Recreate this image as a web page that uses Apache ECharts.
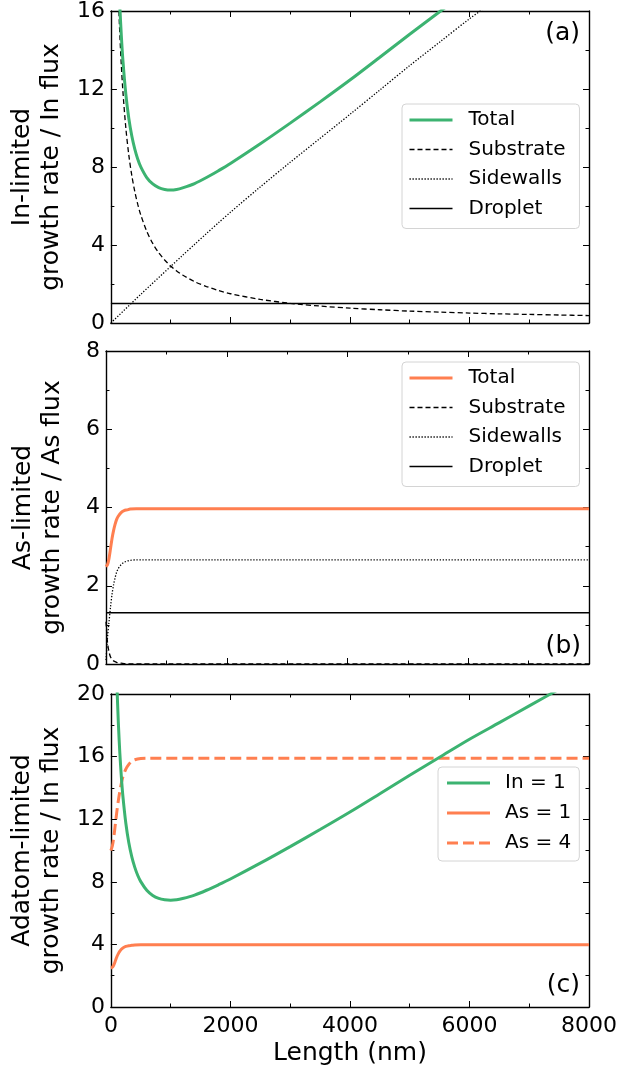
<!DOCTYPE html>
<html>
<head>
<meta charset="utf-8">
<script src="https://cdn.jsdelivr.net/npm/echarts@6/dist/echarts.min.js"></script>
<style>
  html, body { margin: 0; padding: 0; background: #fff; }
  #chart { width: 621px; height: 1069px; }
</style>
</head>
<body>
<div id="chart"></div>
<script>
// ---- Panel (a): In-limited growth rate, contributions vs. length (nm) ----
const lenA = [80, 100, 125, 150, 175, 200, 250, 300, 350, 400, 450, 500, 600, 700, 800, 900, 1000, 1100, 1200,
  1400, 1600, 1800, 2000, 2500, 3000, 3500, 4000, 4500, 5000, 5500, 6000, 6500, 7000, 7500, 8000];
const inSubstrate = [22.14, 19.38, 16.76, 14.76, 13.19, 11.92, 10.00, 8.61, 7.56, 6.74, 6.08, 5.54, 4.70, 4.08, 3.60,
  3.23, 2.92, 2.67, 2.46, 2.12, 1.87, 1.67, 1.50, 1.21, 1.01, 0.87, 0.76, 0.68, 0.61, 0.56, 0.51, 0.47, 0.44, 0.41, 0.38];
const inTotal = [23.38, 20.68, 18.13, 16.20, 14.71, 13.51, 11.74, 10.49, 9.59, 8.92, 8.40, 8.01, 7.46, 7.13, 6.94,
  6.85, 6.82, 6.85, 6.93, 7.15, 7.46, 7.81, 8.18, 9.19, 10.25, 11.34, 12.46, 13.63, 14.81, 15.96, 17.11, 18.17, 19.24, 20.31, 21.38];
const lenSideA = [0, 500, 1000, 1200, 1400, 1600, 1800, 2000, 2500, 3000, 3500, 4000, 4500, 5000, 5500, 6000, 6500, 7000, 7500, 8000];
const inSidewalls = [0, 1.47, 2.90, 3.47, 4.03, 4.59, 5.14, 5.68, 6.98, 8.24, 9.47, 10.70, 11.95, 13.20, 14.40, 15.60, 16.70, 17.80, 18.90, 20.00];
const lenDroplet = [0, 8000];
const inDroplet = [1.0, 1.0];

// ---- Panel (b): As-limited growth rate ----
const lenB = [0, 25, 50, 75, 100, 125, 150, 175, 200, 250, 300, 350, 400, 500, 600, 800, 8000];
const asTotal = [2.49, 2.54, 2.70, 2.95, 3.21, 3.41, 3.57, 3.69, 3.77, 3.87, 3.92, 3.94, 3.96, 3.97, 3.97, 3.97, 3.97];
const asSubstrate = [1.08, 0.55, 0.31, 0.18, 0.12, 0.08, 0.06, 0.04, 0.03, 0.02, 0.01, 0, 0, 0, 0, 0, 0];
const asSidewalls = [0.10, 0.68, 1.08, 1.46, 1.78, 2.02, 2.20, 2.34, 2.43, 2.54, 2.60, 2.63, 2.65, 2.66, 2.66, 2.66, 2.66];
const asDroplet = [1.31, 1.31];

// ---- Panel (c): adatom-limited growth rate for different fluxes ----
const asFour = [10.0, 10.3, 10.9, 11.7, 12.5, 13.2, 13.8, 14.3, 14.7, 15.2, 15.5, 15.7, 15.8, 15.88, 15.9, 15.9, 15.9];

// ---- Axis ticks ----
const xTicks = { min: 0, max: 8000, interval: 2000 };
const yTicksA = { min: 0, max: 16, interval: 4 };
const yTicksB = { min: 0, max: 8, interval: 2 };
const yTicksC = { min: 0, max: 20, interval: 4 };

const FONT = '"DejaVu Sans", "Liberation Sans", sans-serif';
const GREEN = '#3cb371';
const ORANGE = '#ff7f50';
const DASH = [5, 3];
const DOT = [1.3, 1.7];
const THICK = 3;
const THIN = 1.3;

const labelOf = {
  aTotal: 'Total', aSub: 'Substrate', aSide: 'Sidewalls', aDrop: 'Droplet',
  bTotal: 'Total', bSub: 'Substrate', bSide: 'Sidewalls', bDrop: 'Droplet',
  cIn1: 'In = 1', cAs1: 'As = 1', cAs4: 'As = 4'
};

const pairs = (xs, ys) => xs.map((x, i) => [x, ys[i]]);

const grids = [
  { left: 106, top: 10, width: 483, height: 313 },
  { left: 106, top: 351, width: 483, height: 313 },
  { left: 106, top: 694, width: 483, height: 313 }
];

function axisCommon() {
  return {
    type: 'value',
    axisLine: { show: true, onZero: false, lineStyle: { color: '#000', width: 1.4 } },
    axisTick: { show: true, inside: true, length: 6, lineStyle: { color: '#000', width: 1 } },
    minorTick: { show: true, splitNumber: 2, length: 3.5, lineStyle: { color: '#000', width: 1 } },
    splitLine: { show: false },
    minorSplitLine: { show: false }
  };
}

function makeX(gridIndex, position, showLabels, name) {
  const ax = Object.assign(axisCommon(), xTicks, {
    gridIndex, position,
    axisLabel: { show: showLabels, fontSize: 22, fontFamily: FONT, color: '#000', margin: 8,
      formatter: (v) => String(v) }
  });
  if (name) {
    Object.assign(ax, {
      name, nameLocation: 'middle', nameGap: 34,
      nameTextStyle: { fontSize: 25, fontFamily: FONT, color: '#000' }
    });
  }
  return ax;
}

function makeY(gridIndex, position, ticks, name) {
  const ax = Object.assign(axisCommon(), ticks, {
    gridIndex, position,
    axisLabel: { show: position === 'left', fontSize: 22, fontFamily: FONT, color: '#000', margin: 6,
      formatter: (v) => String(v) }
  });
  if (name) {
    Object.assign(ax, {
      name, nameLocation: 'middle', nameRotate: 90, nameGap: 39,
      nameTextStyle: { fontSize: 25, lineHeight: 29, fontFamily: FONT, color: '#000' }
    });
  }
  return ax;
}

const xAxis = [
  makeX(0, 'bottom', false), makeX(0, 'top', false),
  makeX(1, 'bottom', false), makeX(1, 'top', false),
  makeX(2, 'bottom', true, 'Length (nm)'), makeX(2, 'top', false)
];
const yAxis = [
  makeY(0, 'left', yTicksA, 'In-limited\ngrowth rate / In flux'), makeY(0, 'right', yTicksA),
  makeY(1, 'left', yTicksB, 'As-limited\ngrowth rate / As flux'), makeY(1, 'right', yTicksB),
  makeY(2, 'left', yTicksC, 'Adatom-limited\ngrowth rate / In flux'), makeY(2, 'right', yTicksC)
];

function line(name, panel, xs, ys, color, width, dash, z) {
  return {
    type: 'line', name,
    xAxisIndex: panel * 2, yAxisIndex: panel * 2,
    data: pairs(xs, ys),
    symbol: 'none', showSymbol: false, clip: true, silent: true,
    smooth: 0.3,
    z: z || 2,
    lineStyle: { color, width, type: dash || 'solid' },
    itemStyle: { color }
  };
}

const series = [
  line('aTotal', 0, lenA, inTotal, GREEN, THICK, null, 5),
  line('aSub', 0, lenA, inSubstrate, '#000', THIN, DASH),
  line('aSide', 0, lenSideA, inSidewalls, '#000', THIN, DOT),
  line('aDrop', 0, lenDroplet, inDroplet, '#000', THIN),

  line('bTotal', 1, lenB, asTotal, ORANGE, THICK, null, 5),
  line('bSub', 1, lenB, asSubstrate, '#000', THIN, DASH),
  line('bSide', 1, lenB, asSidewalls, '#000', THIN, DOT),
  line('bDrop', 1, lenDroplet, asDroplet, '#000', THIN),

  line('cIn1', 2, lenA, inTotal, GREEN, THICK, null, 5),
  line('cAs1', 2, lenB, asTotal, ORANGE, THICK, null, 4),
  line('cAs4', 2, lenB, asFour, ORANGE, THICK, [11, 5], 4)
];

// legend entries mirror the width of the series they stand for
const thickKeys = new Set(['aTotal', 'bTotal', 'cIn1', 'cAs1', 'cAs4']);

function legend(names, left, top, gap, pad, textPadLeft) {
  return {
    data: names.map((n) => ({ name: n, lineStyle: { width: thickKeys.has(n) ? THICK : THIN } })),
    left, top, orient: 'vertical',
    itemWidth: 43, itemHeight: 14, itemGap: gap,
    padding: pad,
    backgroundColor: 'rgba(255,255,255,0.85)',
    borderColor: '#d4d4d4', borderWidth: 1, borderRadius: 4,
    selectedMode: false,
    itemStyle: { opacity: 0, borderWidth: 0 },
    formatter: (n) => labelOf[n],
    textStyle: { fontSize: 20, lineHeight: 20, fontFamily: FONT, color: '#000', padding: [0, 0, 0, textPadLeft] }
  };
}

const option = {
  animation: false,
  backgroundColor: '#fff',
  grid: grids,
  xAxis, yAxis, series,
  legend: [
    legend(['aTotal', 'aSub', 'aSide', 'aDrop'], 402, 104, 9.5, [6, 14, 10, 6], 11),
    legend(['bTotal', 'bSub', 'bSide', 'bDrop'], 402, 362, 9.5, [6, 14, 10, 6], 11),
    legend(['cIn1', 'cAs1', 'cAs4'], 438, 767, 10, [6, 8, 8, 7.5], 10)
  ],
  graphic: [
    { type: 'text', x: 580, y: 33, silent: true,
      style: { text: '(a)', font: '25px ' + FONT, fill: '#000', textAlign: 'right', textVerticalAlign: 'middle' } },
    { type: 'text', x: 581, y: 646, silent: true,
      style: { text: '(b)', font: '25px ' + FONT, fill: '#000', textAlign: 'right', textVerticalAlign: 'middle' } },
    { type: 'text', x: 580, y: 985, silent: true,
      style: { text: '(c)', font: '25px ' + FONT, fill: '#000', textAlign: 'right', textVerticalAlign: 'middle' } }
  ]
};

const chart = echarts.init(document.getElementById('chart'), null, { renderer: 'canvas' });
chart.setOption(option);
</script>
</body>
</html>
